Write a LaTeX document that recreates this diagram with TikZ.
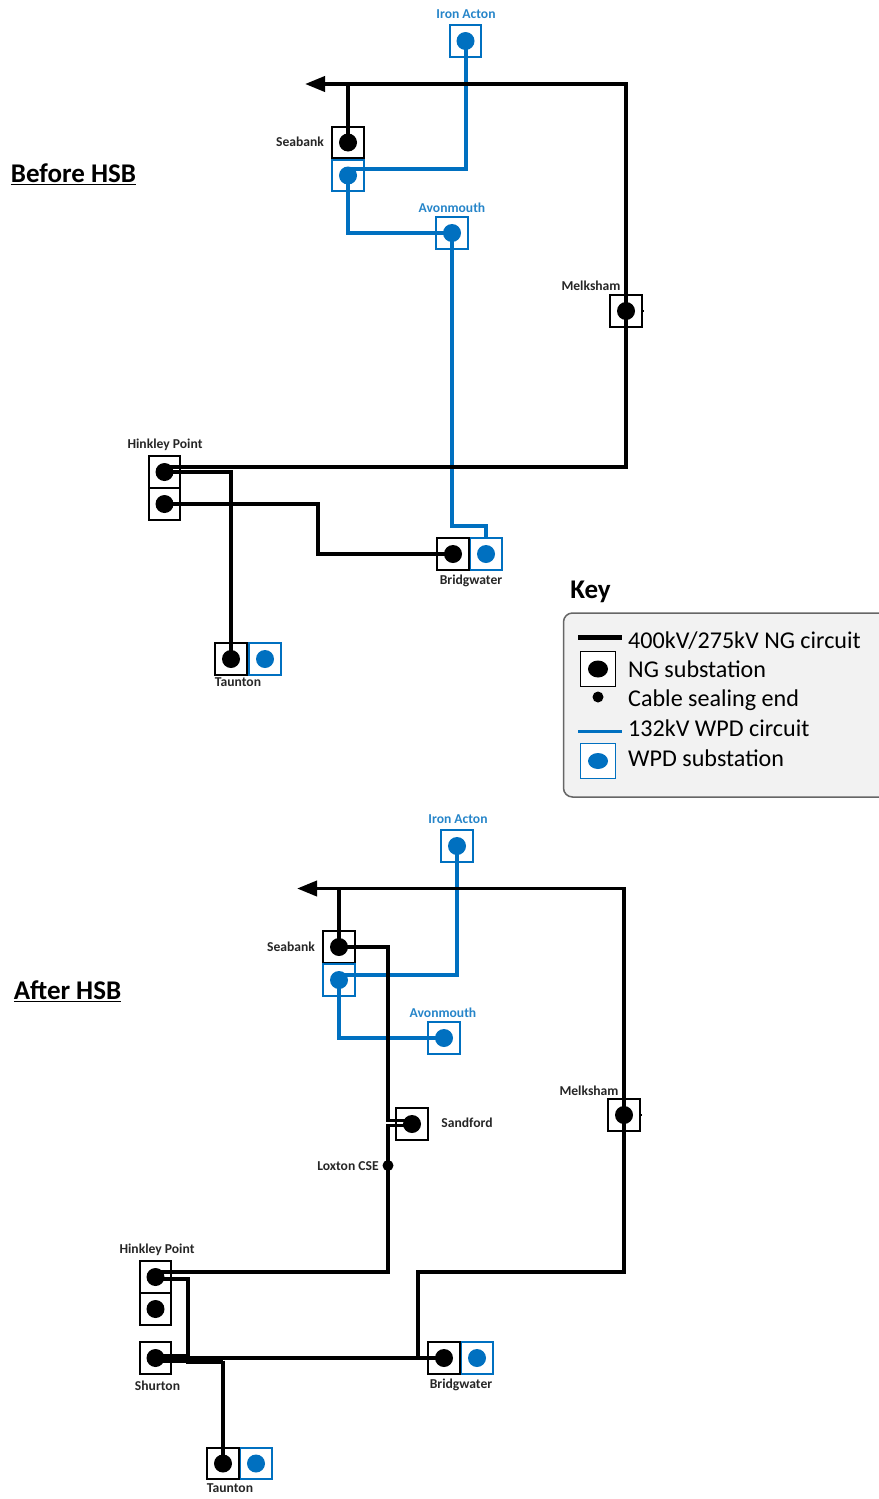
\documentclass[tikz,border=0pt]{standalone}
\usepackage{fontspec}
\setmainfont{Carlito}
\usetikzlibrary{arrows.meta, shapes.geometric}
\definecolor{wpdblue}{HTML}{0070C0}
\definecolor{keygray}{HTML}{F2F2F2}
\tikzset{
	ngbox/.style={draw=black, line width=1.9pt, fill=white, minimum size=31.5pt, inner sep=0pt}
}
\tikzset{
	wpdbox/.style={draw=wpdblue, line width=1.9pt, fill=white, minimum size=31.5pt, inner sep=0pt}
}
\tikzset{
	ngdot/.style={circle, fill=black, minimum size=18pt, inner sep=0pt}
}
\tikzset{
	wpddot/.style={circle, fill=wpdblue, minimum size=18pt, inner sep=0pt}
}
\tikzset{
	cseend/.style={circle, fill=black, minimum size=11pt, inner sep=0pt}
}
\tikzset{
	ngline/.style={draw=black, line width=3.8pt, line join=miter}
}
\tikzset{
	wpdline/.style={draw=wpdblue, line width=4pt, line join=miter}
}
\tikzset{
	ngarrow/.style={ngline, {Triangle[length=20pt,width=15pt]}-}
}
\tikzset{
	nglabel/.style={font=\fontsize{13.6}{15}\selectfont\bfseries, text=black!85, inner sep=0pt}
}
\tikzset{
	wpdlabel/.style={font=\fontsize{13.6}{15}\selectfont\bfseries, text=wpdblue!85, inner sep=0pt}
}
\tikzset{
	headtext/.style={font=\fontsize{27}{30}\selectfont\bfseries, inner sep=0pt}
}
\tikzset{
	keytext/.style={font=\fontsize{24.1}{28}\selectfont, anchor=west, inner sep=0pt}
}
\begin{document}
\begin{tikzpicture}[x=1pt,y=-1pt]
\useasboundingbox (0,0) rectangle (878,1499);

% before
\node[headtext] (beforeHead) at (73.5,174.5) {\underline{Before HSB}};

\coordinate (bArrow) at (305,84);
\coordinate (bTopSea) at (348,84);
\coordinate (bTopRight) at (626,84);
\coordinate (bRightLow) at (626,467);
\coordinate (bHinkMain) at (164,467);
\coordinate (bSeaBlue) at (348,169);
\coordinate (bWpdBridge) at (452,526);
\coordinate (bMelkTick) at (644,311);

\node[wpdbox] (bIronBox) at (465.5,41) {};
\node[ngbox] (bSeaBox) at (348,142.5) {};
\node[wpdbox] (bSeaWpdBox) at (348,175.5) {};
\node[wpdbox] (bAvonBox) at (452,233) {};
\node[ngbox] (bMelkBox) at (626,311) {};
\node[ngbox] (bHinkOneBox) at (164.5,472) {};
\node[ngbox] (bHinkTwoBox) at (164.5,504) {};
\node[wpdbox] (bBridgeWpdBox) at (486,554) {};
\node[ngbox] (bBridgeBox) at (453,554) {};
\node[wpdbox] (bTauntWpdBox) at (265,659) {};
\node[ngbox] (bTauntBox) at (231,659) {};

\node[wpddot] (bIronDot) at (bIronBox) {};
\node[ngdot] (bSeaDot) at (bSeaBox) {};
\node[wpddot] (bSeaWpdDot) at (bSeaWpdBox) {};
\node[wpddot] (bAvonDot) at (bAvonBox) {};
\node[ngdot] (bMelkDot) at (bMelkBox) {};
\node[ngdot] (bHinkOneDot) at (bHinkOneBox) {};
\node[ngdot] (bHinkTwoDot) at (bHinkTwoBox) {};
\node[ngdot] (bBridgeDot) at (bBridgeBox) {};
\node[wpddot] (bBridgeWpdDot) at (bBridgeWpdBox) {};
\node[ngdot] (bTauntDot) at (bTauntBox) {};
\node[wpddot] (bTauntWpdDot) at (bTauntWpdBox) {};

\draw[wpdline] (bIronDot.center) |- (bSeaBlue);
\draw[wpdline] (bSeaWpdDot.center) |- (bAvonDot.center);
\draw[wpdline] (bAvonDot.center) |- (bWpdBridge) -| (bBridgeWpdBox.north);

\draw[ngarrow] (bArrow) -- (bTopRight) -- (bRightLow) -- (bHinkMain);
\draw[ngline] (bTopSea) -- (bSeaDot.center);
\draw[ngline] (bHinkOneDot.center) -| (bTauntDot.center);
\draw[ngline] (bHinkTwoDot.center) -- (318,504) -- (318,554) -- (bBridgeDot.center);
\draw[ngline, line width=2pt] (bMelkBox.east) -- (bMelkTick);

\node[wpdlabel] (bIronText) at (466,14) {Iron Acton};
\node[nglabel] (bSeaText) at (300,142) {Seabank};
\node[wpdlabel] (bAvonText) at (452,208) {Avonmouth};
\node[nglabel] (bMelkText) at (591,286) {Melksham};
\node[nglabel] (bHinkText) at (165,444.5) {Hinkley Point};
\node[nglabel] (bBridgeText) at (471,580.5) {Bridgwater};
\node[nglabel] (bTauntText) at (238,682.5) {Taunton};

% key
\node[headtext] (keyHead) at (590.5,592) {Key};
\draw[draw=black!60, line width=1.5pt, fill=keygray, rounded corners=9pt] (563.5,613) rectangle (900,797);
\coordinate (keyNgA) at (578,637);
\coordinate (keyNgB) at (622,637);
\coordinate (keyWpdA) at (578,731);
\coordinate (keyWpdB) at (622,731);
\draw[draw=black, line width=5pt] (keyNgA) -- (keyNgB);
\draw[draw=wpdblue, line width=3pt] (keyWpdA) -- (keyWpdB);
\node[ngbox, minimum size=35pt] (keyNgBox) at (598,669) {};
\node[ngdot, ellipse, minimum width=20pt, minimum height=17pt] (keyNgDot) at (598,669) {};
\node[cseend] (keyCse) at (598,697) {};
\node[wpdbox, minimum size=35pt] (keyWpdBox) at (598,761) {};
\node[wpddot, ellipse, minimum width=20pt, minimum height=16pt] (keyWpdDot) at (598,761) {};
\node[keytext] (keyTextA) at (628,640.5) {400kV/275kV NG circuit};
\node[keytext] (keyTextB) at (628,669.5) {NG substation};
\node[keytext] (keyTextC) at (628,700) {Cable sealing end};
\node[keytext] (keyTextD) at (628,728.5) {132kV WPD circuit};
\node[keytext] (keyTextE) at (628,758.5) {WPD substation};

% after
\node[headtext] (afterHead) at (67.5,991.5) {\underline{After HSB}};

\coordinate (aArrow) at (297,888.5);
\coordinate (aTopSea) at (339,888.5);
\coordinate (aTopRight) at (624,888.5);
\coordinate (aRightLow) at (624,1272);
\coordinate (aBridgeTop) at (418,1272);
\coordinate (aBridgeLow) at (418,1358);
\coordinate (aSeaBlue) at (339,975);
\coordinate (aSpurUp) at (388,1120.5);
\coordinate (aSpurDown) at (388,1125.5);
\coordinate (aSandUp) at (412,1120.5);
\coordinate (aSandDown) at (412,1125.5);
\coordinate (aHinkMain) at (155,1272);
\coordinate (aHinkLeg) at (155,1279);
\coordinate (aShurtonMid) at (188,1359);
\coordinate (aShurtonFrom) at (186,1360.5);
\coordinate (aShurtonJoin) at (223,1360.5);
\coordinate (aMelkTick) at (642,1115);

\node[wpdbox] (aIronBox) at (457,846) {};
\node[ngbox] (aSeaBox) at (339,947) {};
\node[wpdbox] (aSeaWpdBox) at (339,980) {};
\node[wpdbox] (aAvonBox) at (444,1038) {};
\node[ngbox] (aSandBox) at (412,1124) {};
\node[ngbox] (aMelkBox) at (624,1115) {};
\node[ngbox] (aHinkOneBox) at (155.5,1277) {};
\node[ngbox] (aHinkTwoBox) at (155.5,1309) {};
\node[ngbox] (aShurtBox) at (155.5,1358) {};
\node[wpdbox] (aBridgeWpdBox) at (477,1358) {};
\node[ngbox] (aBridgeBox) at (444,1358) {};
\node[wpdbox] (aTauntWpdBox) at (256,1463.5) {};
\node[ngbox] (aTauntBox) at (223,1463.5) {};

\node[wpddot] (aIronDot) at (aIronBox) {};
\node[ngdot] (aSeaDot) at (aSeaBox) {};
\node[wpddot] (aSeaWpdDot) at (aSeaWpdBox) {};
\node[wpddot] (aAvonDot) at (aAvonBox) {};
\node[ngdot] (aSandDot) at (aSandBox) {};
\node[ngdot] (aMelkDot) at (aMelkBox) {};
\node[ngdot] (aHinkOneDot) at (aHinkOneBox) {};
\node[ngdot] (aHinkTwoDot) at (aHinkTwoBox) {};
\node[ngdot] (aShurtDot) at (aShurtBox) {};
\node[ngdot] (aBridgeDot) at (aBridgeBox) {};
\node[wpddot] (aBridgeWpdDot) at (aBridgeWpdBox) {};
\node[ngdot] (aTauntDot) at (aTauntBox) {};
\node[wpddot] (aTauntWpdDot) at (aTauntWpdBox) {};

\draw[wpdline] (aIronDot.center) |- (aSeaBlue);
\draw[wpdline] (aSeaWpdDot.center) |- (aAvonDot.center);

\draw[ngarrow] (aArrow) -- (aTopRight) -- (aRightLow) -- (aBridgeTop) -- (aBridgeLow);
\draw[ngline] (aTopSea) -- (aSeaDot.center);
\draw[ngline] (aSeaDot.center) -| (aSpurUp) -- (aSandUp);
\draw[ngline] (aSandDown) -- (aSpurDown) |- (aHinkMain);
\draw[ngline] (aHinkLeg) -- (188,1279) -- (aShurtonMid);
\draw[ngline] (aShurtDot.center) -- (aBridgeDot.center);
\draw[ngline, line width=9pt] (aShurtDot.center) -- (aShurtDot.center -| aShurtonMid);
\draw[ngline, line width=6pt] (aShurtonFrom) -- (aShurtonJoin);
\draw[ngline] (aShurtonJoin) -- (aTauntDot.center);
\draw[ngline, line width=2pt] (aMelkBox.east) -- (aMelkTick);

\node[cseend] (aLoxtonDot) at (388,1165.5) {};

\node[wpdlabel] (aIronText) at (458,819) {Iron Acton};
\node[nglabel] (aSeaText) at (291,947) {Seabank};
\node[wpdlabel] (aAvonText) at (443,1013) {Avonmouth};
\node[nglabel] (aSandText) at (467,1123) {Sandford};
\node[nglabel] (aLoxtonText) at (348,1166) {Loxton CSE};
\node[nglabel] (aMelkText) at (589,1091) {Melksham};
\node[nglabel] (aHinkText) at (157,1249.5) {Hinkley Point};
\node[nglabel] (aShurtText) at (157.5,1385.5) {Shurton};
\node[nglabel] (aBridgeText) at (461,1384.5) {Bridgwater};
\node[nglabel] (aTauntText) at (230,1488) {Taunton};

\end{tikzpicture}
\end{document}
